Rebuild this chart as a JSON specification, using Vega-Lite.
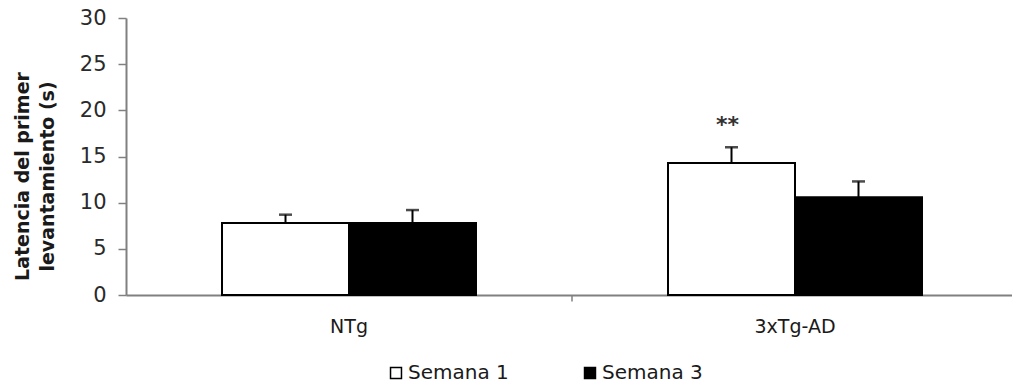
{
  "$schema": "https://vega.github.io/schema/vega-lite/v6.json",
  "width": 892,
  "height": 277,
  "autosize": "none",
  "padding": {"left": 126, "top": 18, "right": 0, "bottom": 94},
  "background": "white",
  "config": {
    "view": {"stroke": null},
    "font": "DejaVu Sans"
  },
  "data": {
    "values": [
      {"grupo": "NTg", "semana": "Semana 1", "media": 7.8, "superior": 8.7, "sig": ""},
      {"grupo": "NTg", "semana": "Semana 3", "media": 7.8, "superior": 9.2, "sig": ""},
      {"grupo": "3xTg-AD", "semana": "Semana 1", "media": 14.3, "superior": 16.0, "sig": "**"},
      {"grupo": "3xTg-AD", "semana": "Semana 3", "media": 10.6, "superior": 12.3, "sig": ""}
    ]
  },
  "encoding": {
    "x": {
      "field": "grupo",
      "type": "nominal",
      "sort": ["NTg", "3xTg-AD"],
      "scale": {"paddingInner": 0, "paddingOuter": 0},
      "axis": {
        "title": null,
        "labelAngle": 0,
        "labelFontSize": 19,
        "labelColor": "#1a1a1a",
        "labelPadding": 22,
        "ticks": false,
        "domainColor": "#808080",
        "domainWidth": 2
      }
    },
    "xOffset": {
      "field": "semana",
      "type": "nominal",
      "sort": ["Semana 1", "Semana 3"],
      "scale": {"paddingInner": 0, "paddingOuter": 0.756}
    }
  },
  "layer": [
    {
      "mark": {"type": "bar", "stroke": "black", "strokeWidth": 2},
      "encoding": {
        "y": {
          "field": "media",
          "type": "quantitative",
          "scale": {"domain": [0, 30], "nice": false},
          "axis": {
            "values": [0, 5, 10, 15, 20, 25, 30],
            "title": ["Latencia del primer", "levantamiento (s)"],
            "titleFont": "DejaVu Sans",
            "titleFontSize": 19,
            "titleFontWeight": "bold",
            "titleColor": "#1a1a1a",
            "titlePadding": 22,
            "titleY": 158,
            "titleLineHeight": 25,
            "labelFontSize": 21,
            "labelColor": "#2a2a2a",
            "labelPadding": 12,
            "grid": false,
            "tickSize": 8,
            "tickColor": "#808080",
            "tickWidth": 1.5,
            "domainColor": "#808080",
            "domainWidth": 2
          }
        },
        "color": {
          "field": "semana",
          "type": "nominal",
          "sort": ["Semana 1", "Semana 3"],
          "scale": {"domain": ["Semana 1", "Semana 3"], "range": ["white", "black"]},
          "legend": {
            "title": null,
            "orient": "none",
            "legendX": 260,
            "legendY": 345,
            "direction": "horizontal",
            "symbolType": "square",
            "symbolSize": 120,
            "symbolStrokeColor": "black",
            "symbolStrokeWidth": 1.5,
            "labelFontSize": 20,
            "labelColor": "#1a1a1a",
            "labelOffset": 2,
            "columnPadding": 71
          }
        }
      }
    },
    {
      "mark": {"type": "rule", "stroke": "black", "strokeWidth": 2},
      "encoding": {
        "y": {"field": "media", "type": "quantitative"},
        "y2": {"field": "superior"}
      }
    },
    {
      "mark": {"type": "tick", "color": "black", "thickness": 2.5, "size": 13},
      "encoding": {
        "y": {"field": "superior", "type": "quantitative"}
      }
    },
    {
      "mark": {"type": "text", "fontSize": 22, "fontWeight": "bold", "color": "#333333", "dy": -22, "dx": -4},
      "encoding": {
        "y": {"field": "superior", "type": "quantitative"},
        "text": {"field": "sig"}
      }
    },
    {
      "data": {"values": [{"grupo": "3xTg-AD", "desde": 0, "hasta": -0.7}]},
      "mark": {"type": "rule", "stroke": "#808080", "strokeWidth": 1.5},
      "encoding": {
        "x": {"field": "grupo", "type": "nominal", "bandPosition": 0},
        "xOffset": null,
        "y": {"field": "desde", "type": "quantitative"},
        "y2": {"field": "hasta"}
      }
    }
  ]
}
